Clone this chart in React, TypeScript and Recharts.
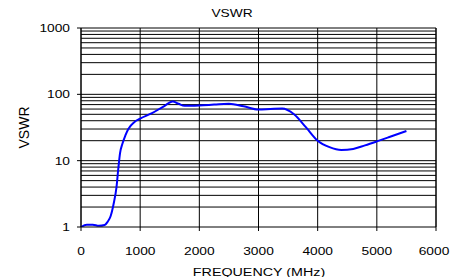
import { LineChart, Line, XAxis, YAxis, CartesianGrid, ReferenceLine } from 'recharts'

const freq = [0, 100, 200, 300, 400, 450, 500, 550, 600, 630, 660, 700, 750, 800, 900, 1000, 1200, 1400, 1550, 1650, 1750, 2000, 2250, 2500, 2750, 3000, 3200, 3400, 3600, 3800, 4000, 4200, 4400, 4600, 4800, 5000, 5200, 5500]
const vswr = [1.0, 1.08, 1.08, 1.04, 1.07, 1.2, 1.45, 2.2, 4, 7.5, 13, 18, 24, 30, 38, 43, 52, 66, 78, 72, 67, 68, 70, 72, 66, 59, 60, 61, 50, 32, 20, 16, 14.5, 15, 17, 19.5, 22.5, 28]

const xTicks = [0, 1000, 2000, 3000, 4000, 5000, 6000]
const yTicks = [1, 10, 100, 1000]
const minorGrid = [2, 3, 4, 5, 6, 7, 8, 9, 10, 20, 30, 40, 50, 60, 70, 80, 90, 100, 200, 300, 400, 500, 600, 700, 800, 900, 1000]

const data = freq.map((f, i) => ({ f, v: vswr[i] }))

const font = "'Liberation Sans', Arial, sans-serif"
const stretch = 1.25

// excel-ish wide glyphs
const XTick = (props: any) => {
  const { x, y, payload } = props
  return (
    <g transform={`translate(${x},${y + 22})`}>
      <text transform={`scale(${stretch},1)`} textAnchor="middle" fontSize={11} fontFamily={font} fill="#000">
        {payload.value}
      </text>
    </g>
  )
}

const YTick = (props: any) => {
  const { x, y, payload } = props
  return (
    <g transform={`translate(${x - 5},${y + 4})`}>
      <text transform={`scale(${stretch},1)`} textAnchor="end" fontSize={11} fontFamily={font} fill="#000">
        {payload.value}
      </text>
    </g>
  )
}

export default function App() {
  return (
    <div style={{ position: 'absolute', left: 0, top: 0, width: 450, height: 277, background: '#fff' }}>
      <LineChart width={450} height={277} data={data} margin={{ top: 28, right: 14, bottom: 0, left: 0 }}>
        <CartesianGrid horizontal={false} stroke="#000" strokeWidth={1} />
        {minorGrid.map(g => (
          <ReferenceLine key={g} y={g} stroke="#000" strokeWidth={1} ifOverflow="extendDomain" />
        ))}
        <ReferenceLine x={6000} stroke="#000" strokeWidth={1} />
        <XAxis
          dataKey="f" type="number" domain={[0, 6000]} ticks={xTicks}
          tick={<XTick />} tickSize={4}
          axisLine={{ stroke: '#000' }} tickLine={{ stroke: '#000' }} height={50}
        />
        <YAxis
          type="number" scale="log" domain={[1, 1000]} ticks={yTicks} allowDataOverflow
          tick={<YTick />} tickSize={4} width={81}
          axisLine={{ stroke: '#000' }} tickLine={{ stroke: '#000' }}
        />
        <Line
          type="monotone" dataKey="v" stroke="#0000ff" strokeWidth={2}
          dot={false} isAnimationActive={false}
        />
      </LineChart>
      <svg width={450} height={277} style={{ position: 'absolute', left: 0, top: 0, pointerEvents: 'none' }}>
        <g transform="translate(232,17)">
          <text transform={`scale(${stretch},1)`} textAnchor="middle" fontSize={11} fontFamily={font} fill="#000">VSWR</text>
        </g>
        <g transform="translate(259,275.5)">
          <text transform={`scale(1.3,1)`} textAnchor="middle" fontSize={11} fontFamily={font} fill="#000">FREQUENCY (MHz)</text>
        </g>
        <g transform="translate(29,127.5) rotate(-90)">
          <text textAnchor="middle" fontSize={14} fontFamily={font} fill="#000">VSWR</text>
        </g>
      </svg>
    </div>
  )
}
